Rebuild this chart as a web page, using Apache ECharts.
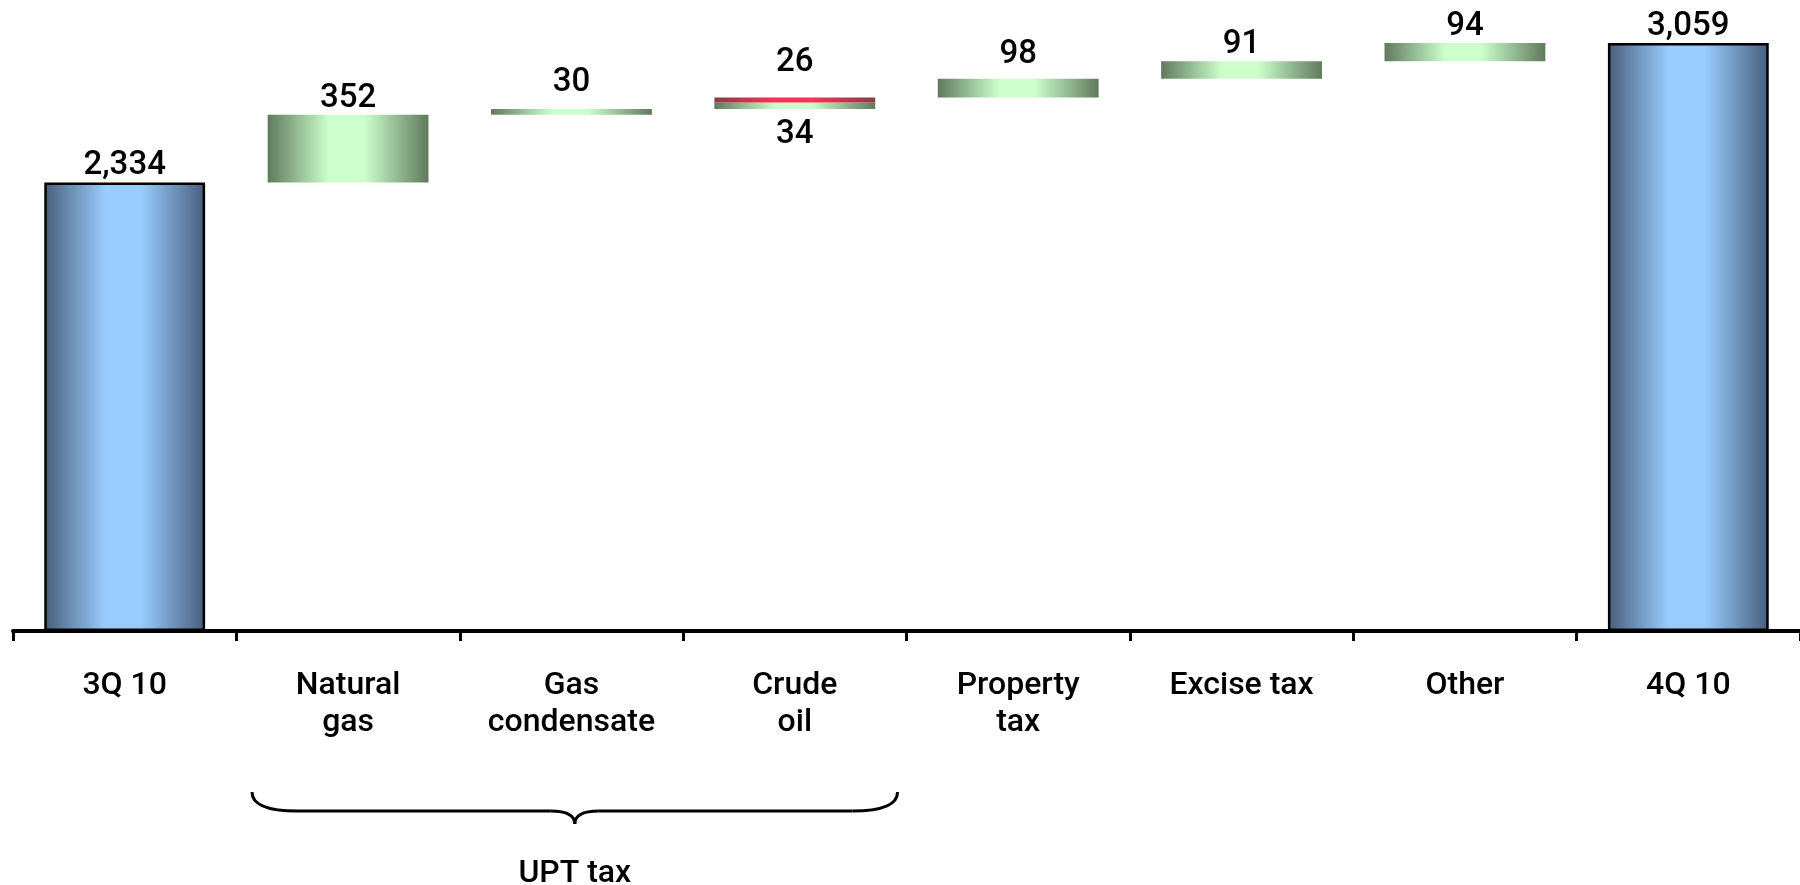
<!DOCTYPE html>
<html>
<head>
<meta charset="utf-8">
<script src="https://cdn.jsdelivr.net/npm/echarts@6/dist/echarts.min.js"></script>
<style>
  html, body { margin: 0; padding: 0; background: #fff; }
  #chart { width: 1800px; height: 885px; }
</style>
</head>
<body>
<div id="chart"></div>
<script>
const categories = ['3Q 10', 'Natural\ngas', 'Gas\ncondensate', 'Crude\noil', 'Property\ntax', 'Excise tax', 'Other', '4Q 10'];
const totals = [2334, null, null, null, null, null, null, 3059];
const increases = [null, 352, 30, 34, 98, 91, 94, null];
const crudeExtra = [null, null, null, 26, null, null, null, null];
const groupLabel = 'UPT tax';
const groupRange = [1, 3];

// invisible base under the floating bars
const base = [];
let running = 0;
categories.forEach((c, i) => {
  if (totals[i] != null) { base.push(0); running = totals[i]; return; }
  base.push(running);
  running += (increases[i] || 0) + (crudeExtra[i] || 0);
});

const font = 'Roboto, "Noto Sans", sans-serif';
const fmt = v => Number(v).toLocaleString('en-US');

function sideGradient(edge, mid) {
  return new echarts.graphic.LinearGradient(0, 0, 1, 0, [
    { offset: 0, color: edge },
    { offset: 0.38, color: mid },
    { offset: 0.6, color: mid },
    { offset: 1, color: edge }
  ]);
}

const valueLabel = {
  show: true,
  position: 'top',
  distance: 0,
  color: '#000',
  fontFamily: font,
  fontSize: 33,
  fontWeight: 500,
  formatter: p => fmt(p.value)
};

// a few labels sit higher above their bars in the original
const labelLift = { 2: 10, 4: 7 };

const chart = echarts.init(document.getElementById('chart'));

chart.setOption({
  animation: false,
  backgroundColor: '#fff',
  grid: { left: 13, right: -6, top: 16, bottom: 254 },
  xAxis: {
    type: 'category',
    data: categories,
    axisLine: { lineStyle: { color: '#000', width: 4 } },
    axisTick: { show: true, interval: 0, length: 10, lineStyle: { color: '#000', width: 3 } },
    axisLabel: {
      interval: 0,
      margin: 36,
      color: '#000',
      fontFamily: font,
      fontSize: 32,
      fontWeight: 500,
      lineHeight: 37
    }
  },
  yAxis: { type: 'value', min: 0, max: 3200, show: false, splitLine: { show: false } },
  series: [
    {
      type: 'bar',
      stack: 'w',
      silent: true,
      barCategoryGap: '28%',
      itemStyle: { color: 'transparent' },
      data: base
    },
    {
      type: 'bar',
      stack: 'w',
      itemStyle: { color: sideGradient('#475e7b', '#99ccff'), borderColor: '#000', borderWidth: 2.5 },
      label: valueLabel,
      data: totals
    },
    {
      type: 'bar',
      stack: 'w',
      itemStyle: { color: sideGradient('#5f7a5c', '#ccffcc') },
      label: valueLabel,
      data: increases.map((v, i) => {
        if (v == null) return null;
        if (crudeExtra[i] != null) return { value: v, label: { position: 'bottom', distance: 9 } };
        if (labelLift[i]) return { value: v, label: { distance: labelLift[i] } };
        return v;
      })
    },
    {
      type: 'bar',
      stack: 'w',
      itemStyle: { color: sideGradient('#8a3a47', '#ff3355') },
      label: Object.assign({}, valueLabel, { distance: 18 }),
      data: crudeExtra
    }
  ]
});

// brace under the UPT tax categories
function drawBrace() {
  const px = i => chart.convertToPixel({ xAxisIndex: 0 }, i);
  const band = px(1) - px(0);
  const axisY = chart.convertToPixel({ yAxisIndex: 0 }, 0);
  const x0 = px(groupRange[0]) - band * 0.43;
  const x1 = px(groupRange[1]) + band * 0.46;
  const xc = (x0 + x1) / 2;
  const y0 = axisY + 161;
  const y1 = axisY + 180;
  const y2 = axisY + 193;
  const stroke = { stroke: '#000', lineWidth: 3, fill: null };
  const curve = (ax, ay, bx, by, cx, cy) => ({
    type: 'bezierCurve',
    shape: { x1: ax, y1: ay, x2: bx, y2: by, cpx1: cx, cpy1: cy },
    style: stroke
  });
  const line = (ax, bx) => ({
    type: 'line',
    shape: { x1: ax, y1: y1, x2: bx, y2: y1 },
    style: stroke
  });
  chart.setOption({
    graphic: [
      curve(x0, y0, x0 + 45, y1, x0, y1),
      line(x0 + 45, xc - 24),
      curve(xc - 24, y1, xc, y2, xc, y1),
      curve(xc, y2, xc + 24, y1, xc, y1),
      line(xc + 24, x1 - 45),
      curve(x1 - 45, y1, x1, y0, x1, y1),
      {
        type: 'text',
        x: xc,
        y: axisY + 243,
        style: {
          text: groupLabel,
          fill: '#000',
          font: '500 32px ' + font,
          align: 'center',
          verticalAlign: 'middle'
        }
      }
    ]
  });
}
drawBrace();
</script>
</body>
</html>
